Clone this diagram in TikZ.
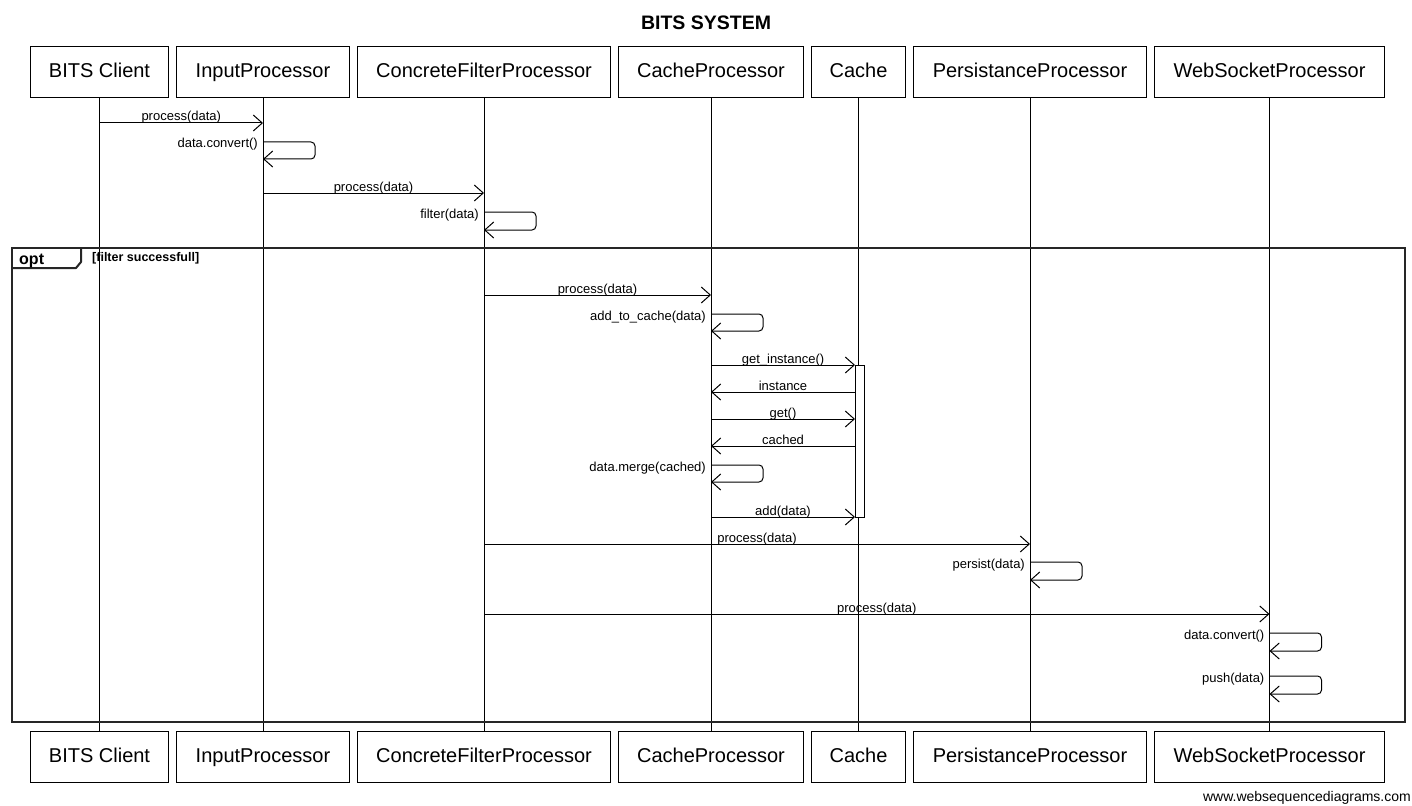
\documentclass[tikz,border=0pt]{standalone}
\usepackage{fontspec}
\setmainfont{Liberation Sans}
\usetikzlibrary{arrows.meta}
\newcommand\selfcall[4]{%
  \draw[msg, rounded corners=4pt] (#1.south |- 0,#2) -- ++(52,0) |- (#1.south |- 0,#3);
  \path (#1.south |- 0,#2) node[lbl, anchor=base east, xshift=-5pt, yshift=-6pt] {#4};}
\begin{document}
\begin{tikzpicture}[x=1pt,y=-1pt,
  part/.style={draw, line width=1pt, minimum height=51pt, inner sep=0pt, anchor=north west,
               text height=14.5pt, text depth=4pt, font=\fontsize{20}{24}\selectfont},
  msg/.style={line width=1pt, -{Straight Barb[length=9pt,width=16pt,line width=1pt]}},
  lbl/.style={font=\fontsize{13}{15}\selectfont, inner sep=0pt},
  life/.style={line width=1pt},
  frame/.style={line width=2pt, draw=black!85}]
\useasboundingbox (0,0) rectangle (1412,805);

\node[font=\bfseries\fontsize{19.5}{23}\selectfont] (title) at (706,23) {BITS SYSTEM};

% top participants
\node[part, minimum width=138pt] (c)  at (30,46)   {BITS Client};
\node[part, minimum width=173pt] (ip) at (176,46)  {InputProcessor};
\node[part, minimum width=253pt] (fp) at (357,46)  {ConcreteFilterProcessor};
\node[part, minimum width=185pt] (cp) at (618,46)  {CacheProcessor};
\node[part, minimum width=94pt]  (ca) at (811,46)  {Cache};
\node[part, minimum width=233pt] (pp) at (913,46)  {PersistanceProcessor};
\node[part, minimum width=230pt] (ws) at (1154,46) {WebSocketProcessor};
% bottom participants
\node[part, minimum width=138pt] (cb)  at (30,731)   {BITS Client};
\node[part, minimum width=173pt] (ipb) at (176,731)  {InputProcessor};
\node[part, minimum width=253pt] (fpb) at (357,731)  {ConcreteFilterProcessor};
\node[part, minimum width=185pt] (cpb) at (618,731)  {CacheProcessor};
\node[part, minimum width=94pt]  (cab) at (811,731)  {Cache};
\node[part, minimum width=233pt] (ppb) at (913,731)  {PersistanceProcessor};
\node[part, minimum width=230pt] (wsb) at (1154,731) {WebSocketProcessor};

% lifelines
\foreach \a/\b in {c/cb, ip/ipb, fp/fpb, cp/cpb, ca/cab, pp/ppb, ws/wsb}
  \draw[life] (\a.south) -- (\b.north);

% opt frame
\node[frame, draw, anchor=north west, minimum width=1393pt, minimum height=474pt, inner sep=0pt] (opt) at (11,247) {};
\draw[frame, line join=round] (11,268) -- (76,268) -- (81,262) -- (81,247);
\node[font=\bfseries\fontsize{16}{18}\selectfont, anchor=base west, inner sep=0pt] (optlbl) at (19,264) {opt};
\node[font=\bfseries\fontsize{12.5}{14}\selectfont, anchor=base west, inner sep=0pt] (guard) at (92,261) {[filter successfull]};

% activation on Cache
\draw[line width=1pt, fill=white] (855,365) rectangle (864,517);
\coordinate (act) at (855,365);

% messages
\draw[msg] (c.south |- 0,123) -- node[lbl, anchor=base, yshift=2pt] {process(data)} (ip.south |- 0,123);
\selfcall{ip}{142}{159}{data.convert()}
\draw[msg] (ip.south |- 0,193) -- node[lbl, anchor=base, yshift=2pt] {process(data)} (fp.south |- 0,193);
\selfcall{fp}{212}{230}{filter(data)}
\draw[msg] (fp.south |- 0,295) -- node[lbl, anchor=base, yshift=2pt] {process(data)} (cp.south |- 0,295);
\selfcall{cp}{314}{331}{add\_to\_cache(data)}
\draw[msg] (cp.south |- 0,365) -- node[lbl, anchor=base, yshift=2pt] {get\_instance()} (act |- 0,365);
\draw[msg] (act |- 0,392) -- node[lbl, anchor=base, yshift=2pt] {instance} (cp.south |- 0,392);
\draw[msg] (cp.south |- 0,419) -- node[lbl, anchor=base, yshift=2pt] {get()} (act |- 0,419);
\draw[msg] (act |- 0,446) -- node[lbl, anchor=base, yshift=2pt] {cached} (cp.south |- 0,446);
\selfcall{cp}{465}{482}{data.merge(cached)}
\draw[msg] (cp.south |- 0,517) -- node[lbl, anchor=base, yshift=2pt] {add(data)} (act |- 0,517);
\draw[msg] (fp.south |- 0,544) -- node[lbl, anchor=base, yshift=2pt] {process(data)} (pp.south |- 0,544);
\selfcall{pp}{562}{580}{persist(data)}
\draw[msg] (fp.south |- 0,614) -- node[lbl, anchor=base, yshift=2pt] {process(data)} (ws.south |- 0,614);
\selfcall{ws}{633}{651}{data.convert()}
\selfcall{ws}{676}{694}{push(data)}

\node[font=\fontsize{14}{16}\selectfont, anchor=base east, inner sep=0pt] (wm) at (1411,801) {www.websequencediagrams.com};
\end{tikzpicture}
\end{document}
